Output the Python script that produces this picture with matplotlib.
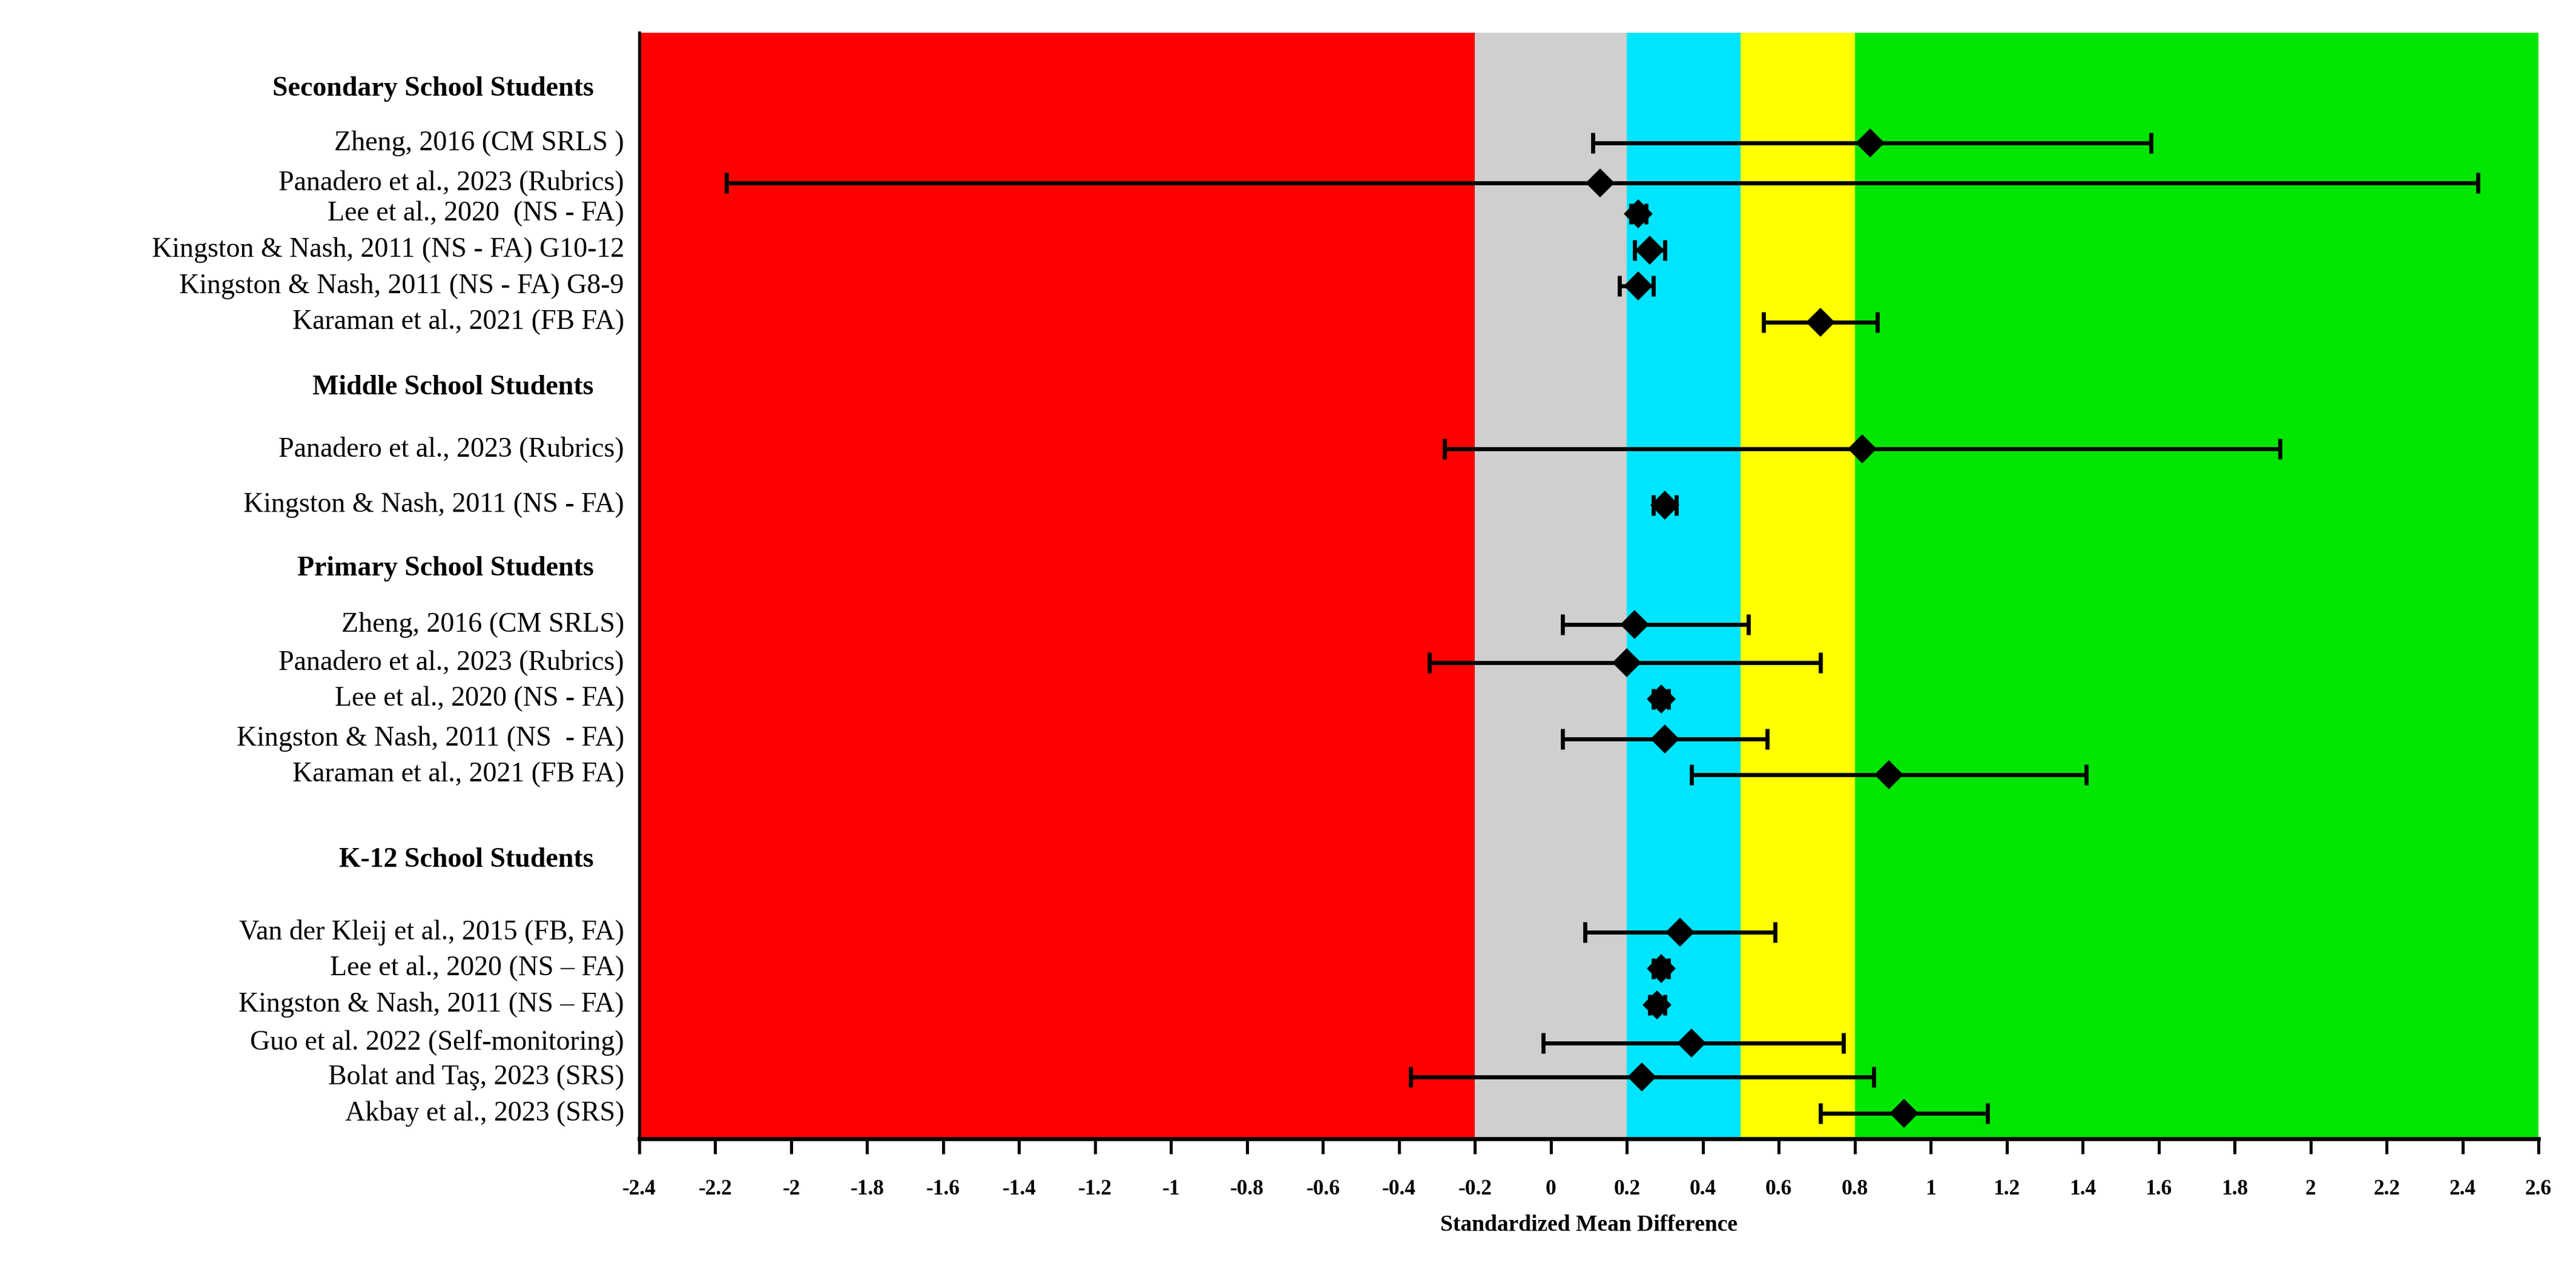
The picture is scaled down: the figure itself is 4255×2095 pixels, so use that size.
import matplotlib
matplotlib.use("Agg")
import matplotlib.pyplot as plt
import numpy as np

# study labels, effect sizes and CI bounds, grouped by school level
groups = ["Secondary School Students", "Middle School Students",
          "Primary School Students", "K-12 School Students"]
labels = [
    ["Zheng, 2016 (CM SRLS )", "Panadero et al., 2023 (Rubrics)", "Lee et al., 2020  (NS - FA)",
     "Kingston & Nash, 2011 (NS - FA) G10-12", "Kingston & Nash, 2011 (NS - FA) G8-9",
     "Karaman et al., 2021 (FB FA)"],
    ["Panadero et al., 2023 (Rubrics)", "Kingston & Nash, 2011 (NS - FA)"],
    ["Zheng, 2016 (CM SRLS)", "Panadero et al., 2023 (Rubrics)", "Lee et al., 2020 (NS - FA)",
     "Kingston & Nash, 2011 (NS  - FA)", "Karaman et al., 2021 (FB FA)"],
    ["Van der Kleij et al., 2015 (FB, FA)", "Lee et al., 2020 (NS \u2013 FA)",
     "Kingston & Nash, 2011 (NS \u2013 FA)", "Guo et al. 2022 (Self-monitoring)",
     "Bolat and Ta\u015f, 2023 (SRS)", "Akbay et al., 2023 (SRS)"],
]
smd = [[0.84, 0.13, 0.23, 0.26, 0.23, 0.71],
       [0.82, 0.30],
       [0.22, 0.20, 0.29, 0.30, 0.89],
       [0.34, 0.29, 0.28, 0.37, 0.24, 0.93]]
lo = [[0.11, -2.17, 0.21, 0.22, 0.18, 0.56],
      [-0.28, 0.27],
      [0.03, -0.32, 0.27, 0.03, 0.37],
      [0.09, 0.27, 0.26, -0.02, -0.37, 0.71]]
hi = [[1.58, 2.44, 0.25, 0.30, 0.27, 0.86],
      [1.92, 0.33],
      [0.52, 0.71, 0.31, 0.57, 1.41],
      [0.59, 0.31, 0.30, 0.77, 0.85, 1.15]]

# effect-size bands (edges, colours)
band_edges = [-2.4, -0.2, 0.2, 0.5, 0.8, 2.6]
band_colors = ["#ff0000", "#d0cece", "#00e5ff", "#ffff00", "#00e600"]

# vertical layout (row units, top to bottom)
header_y = [1.0, 9.25, 14.25, 22.3]
item_y = [[2.5, 3.6, 4.45, 5.45, 6.45, 7.45],
          [10.95, 12.5],
          [15.8, 16.85, 17.85, 18.95, 19.95],
          [24.3, 25.3, 26.3, 27.35, 28.3, 29.3]]

plt.rcParams['font.family'] = ['Liberation Serif', 'DejaVu Serif']

fig = plt.figure(figsize=(4255 / 300, 2095 / 300), dpi=300)
ax = fig.add_axes([1056 / 4255, 1 - 1880 / 2095, (4193 - 1056) / 4255, (1880 - 54) / 2095])

for i in range(len(band_colors)):
    ax.axvspan(band_edges[i], band_edges[i + 1], color=band_colors[i], lw=0, zorder=0)

for g in range(len(groups)):
    ys = np.array(item_y[g])
    x = np.array(smd[g])
    err = [x - np.array(lo[g]), np.array(hi[g]) - x]
    ax.errorbar(x, ys, xerr=err, fmt='D', color='black', ms=7, lw=1.6,
                capsize=4, capthick=1.6, zorder=3)
    ax.text(-0.024, header_y[g], groups[g], transform=ax.get_yaxis_transform(),
            ha='right', va='center', fontsize=11, fontweight='bold')
    for yy, lab in zip(ys, labels[g]):
        ax.text(-0.008, yy, lab, transform=ax.get_yaxis_transform(),
                ha='right', va='center', fontsize=11)

ax.set_xlim(-2.4, 2.6)
ax.set_ylim(30.0, -0.55)
ticks = np.round(np.arange(-2.4, 2.61, 0.2), 1)
ax.set_xticks(ticks)
ax.set_xticklabels([f"{t:g}" for t in ticks], fontsize=8.5, fontweight='bold')
ax.tick_params(axis='x', direction='out', length=6, width=1.2, pad=10)
ax.set_yticks([])
for s in ['top', 'right']:
    ax.spines[s].set_visible(False)
ax.spines['left'].set_linewidth(1.2)
ax.spines['bottom'].set_linewidth(1.6)
ax.set_xlabel("Standardized Mean Difference", fontsize=9, fontweight='bold', labelpad=6)

fig.savefig("out.png", dpi=300)
